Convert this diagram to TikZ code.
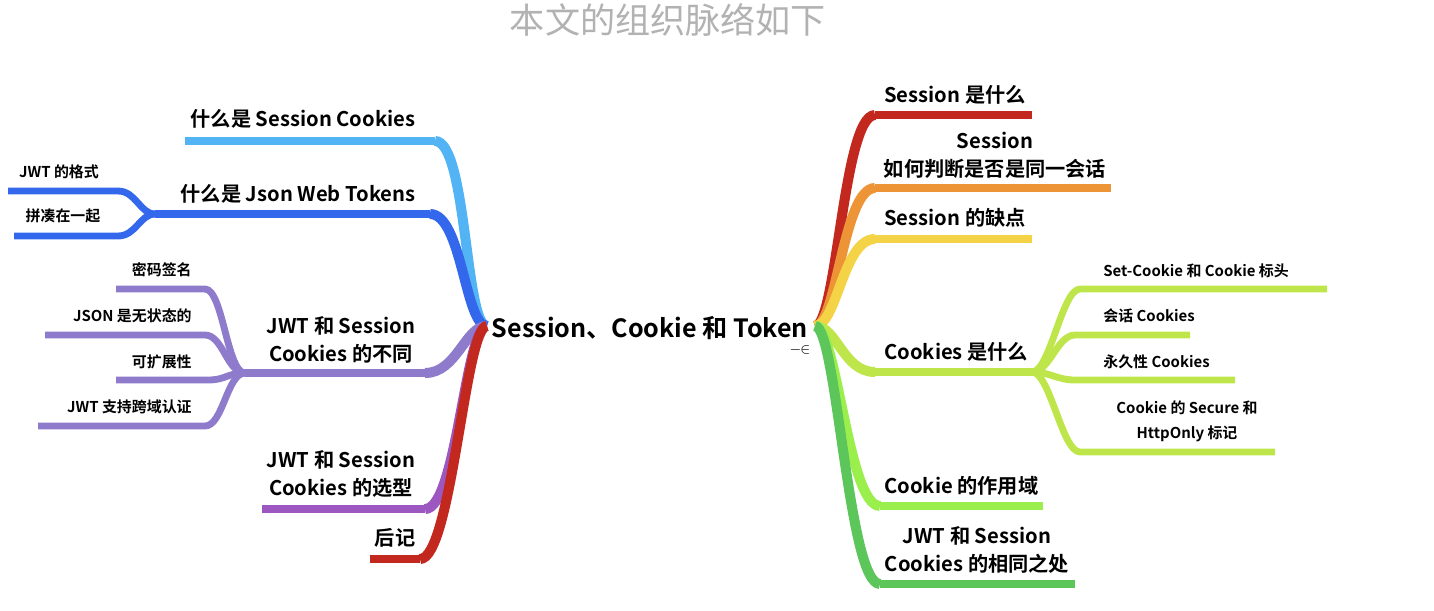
\documentclass[tikz,border=0pt]{standalone}
\usepackage{fontspec}
\setmainfont{Noto Sans CJK SC}[BoldFont={Noto Sans CJK SC Bold}]
\usetikzlibrary{positioning}
\definecolor{titlegray}{RGB}{178,178,178}
\definecolor{skyblue}{RGB}{82,180,244}
\definecolor{royalblue}{RGB}{52,104,236}
\definecolor{lavender}{RGB}{142,123,203}
\definecolor{violet}{RGB}{157,87,192}
\definecolor{brickred}{RGB}{195,40,30}
\definecolor{tangerine}{RGB}{236,148,54}
\definecolor{sunyellow}{RGB}{244,211,70}
\definecolor{limegreen}{RGB}{190,230,74}
\definecolor{brightgreen}{RGB}{155,239,76}
\definecolor{leafgreen}{RGB}{93,198,90}

\tikzset{
    stem/.style={line width=5.7pt},
    branch/.style={line width=5pt},
    twig/.style={line width=3.9pt},
    title/.style={font=\fontsize{20}{20}\selectfont, text=titlegray, inner sep=0pt},
    root/.style={font=\bfseries\fontsize{14.3}{16}\selectfont, inner sep=0pt},
    topic/.style={font=\bfseries\fontsize{11.5}{15.9}\selectfont, align=center, inner sep=0pt},
    subtopic/.style={font=\bfseries\fontsize{8.5}{14.2}\selectfont, align=center, inner sep=0pt},
}

\begin{document}
\begin{tikzpicture}[x=0.02cm, y=-0.02cm]
    \useasboundingbox (0,0) rectangle (1434,610);

    \node[title] (title) at (668,20) {本文的组织脉络如下};
    \node[root] (root) at (650,328) {Session、Cookie 和 Token};
    \node[font=\bfseries\fontsize{8}{8}\selectfont, inner sep=0pt] (fold) at (800,350) {$-\!\!\in$};

    \coordinate (root-l) at (487,326);
    \coordinate (root-r) at (815,326);

    % left half
    \foreach \n/\c/\y/\xa/\xe in {
        sc/skyblue/141/435/185,
        jwt/royalblue/214/430/155,
        diff/lavender/373/425/245,
        pick/violet/509/425/262,
        post/brickred/559/420/370}
        {
        \coordinate (\n-a) at (\xa,\y);
        \coordinate (\n-e) at (\xe,\y);
        \draw[stem, \c] (root-l) .. controls +(-22,0) and +(32,0) .. (\n-a);
        \draw[branch, \c] (\n-a) -- (\n-e);
        }

    \foreach \n/\y/\xa/\xe in {
        fmt/191/118/8,
        join/236/118/14}
        {
        \coordinate (\n-a) at (\xa,\y);
        \coordinate (\n-e) at (\xe,\y);
        \draw[twig, royalblue] (jwt-e) .. controls +(-15,0) and +(18,0) .. (\n-a) -- (\n-e);
        }

    \foreach \n/\y/\xa/\xe in {
        sign/289/205/116,
        state/335/205/45,
        scale/380/208/116,
        cors/426/205/38}
        {
        \coordinate (\n-a) at (\xa,\y);
        \coordinate (\n-e) at (\xe,\y);
        \draw[twig, lavender] (diff-e) .. controls +(-18,0) and +(18,0) .. (\n-a) -- (\n-e);
        }

    \node[topic] (sc) at (303,119) {什么是 Session Cookies};
    \node[topic] (jwt) at (298,194) {什么是 Json Web Tokens};
    \node[subtopic] (fmt) at (59,172) {JWT 的格式};
    \node[subtopic] (join) at (63,216) {拼凑在一起};
    \node[topic] (diff) at (341,340) {JWT 和 Session\\Cookies 的不同};
    \node[subtopic, anchor=east] (sign) at (192,270) {密码签名};
    \node[subtopic, anchor=east] (state) at (192,316) {JSON 是无状态的};
    \node[subtopic, anchor=east] (scale) at (192,362) {可扩展性};
    \node[subtopic, anchor=east] (cors) at (192,407) {JWT 支持跨域认证};
    \node[topic] (pick) at (341,474) {JWT 和 Session\\Cookies 的选型};
    \node[topic] (post) at (395,538) {后记};

    % right half
    \foreach \n/\c/\y/\xa/\xe in {
        what/brickred/115/875/1032,
        same/tangerine/188/875/1111,
        flaw/sunyellow/239/875/1032,
        ck/limegreen/372/875/1032,
        dom/brightgreen/506/880/1043,
        alike/leafgreen/584/880/1075}
        {
        \coordinate (\n-a) at (\xa,\y);
        \coordinate (\n-e) at (\xe,\y);
        \draw[stem, \c] (root-r) .. controls +(22,0) and +(-32,0) .. (\n-a);
        \draw[branch, \c] (\n-a) -- (\n-e);
        }

    \foreach \n/\y/\xa/\xe in {
        hdr/289/1080/1327,
        sess/335/1075/1190,
        perm/380/1075/1235,
        flag/452/1080/1275}
        {
        \coordinate (\n-a) at (\xa,\y);
        \coordinate (\n-e) at (\xe,\y);
        \draw[twig, limegreen] (ck-e) .. controls +(18,0) and +(-18,0) .. (\n-a) -- (\n-e);
        }

    \node[topic, anchor=west] (what) at (884,95) {Session 是什么};
    \node[topic] (same) at (995,155) {Session\\如何判断是否是同一会话};
    \node[topic, anchor=west] (flaw) at (884,218) {Session 的缺点};
    \node[topic, anchor=west] (ck) at (884,352) {Cookies 是什么};
    \node[subtopic, anchor=west] (hdr) at (1103,271) {Set-Cookie 和 Cookie 标头};
    \node[subtopic, anchor=west] (sess) at (1103,316) {会话 Cookies};
    \node[subtopic, anchor=west] (perm) at (1103,362) {永久性 Cookies};
    \node[subtopic] (flag) at (1187,421) {Cookie 的 Secure 和\\HttpOnly 标记};
    \node[topic, anchor=west] (dom) at (884,486) {Cookie 的作用域};
    \node[topic] (alike) at (977,550) {JWT 和 Session\\Cookies 的相同之处};
\end{tikzpicture}
\end{document}
